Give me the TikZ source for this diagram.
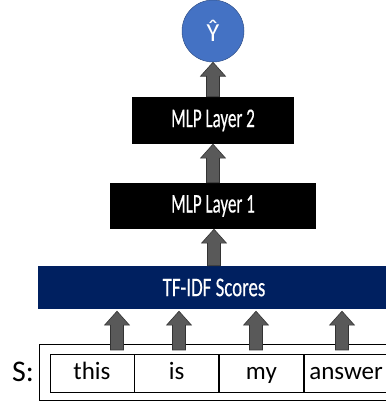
\documentclass[tikz,border=0pt]{standalone}
\usepackage{fontspec}
\setmainfont{Carlito}
\newfontfamily\narrowfont[FakeStretch=0.63,FakeBold=0.35]{Carlito}
\newfontfamily\scorefont[FakeStretch=0.7,FakeBold=0.35]{Carlito}
\usepackage{tikz}
\usetikzlibrary{positioning,calc}
\definecolor{layercolor}{HTML}{000000}
\definecolor{scorecolor}{HTML}{002060}
\definecolor{outcolor}{HTML}{4472C4}
\definecolor{arrowgray}{HTML}{595959}

% block arrow, drawn upward from #1 to the height of #2
\newcommand{\blockarrow}[2]{%
  \filldraw[arrowstyle] let \p1=(#1), \p2=(#2) in
    (\x1-6.5pt,\y1) -- (\x1-6.5pt,\y2-14pt) -- (\x1-12.5pt,\y2-14pt) -- (\x1,\y2)
    -- (\x1+12.5pt,\y2-14pt) -- (\x1+6.5pt,\y2-14pt) -- (\x1+6.5pt,\y1) -- cycle;}

\begin{document}
\begin{tikzpicture}[x=1pt, y=1pt,
  layer/.style={fill=layercolor, text=white, inner sep=0pt, font=\narrowfont\fontsize{27}{27}\selectfont},
  word/.style={draw=black, line width=0.7pt, minimum width=84pt, minimum height=38pt, inner sep=0pt,
    text height=17pt, text depth=5pt, font=\fontsize{25}{25}\selectfont},
  arrowstyle/.style={fill=arrowgray, draw=black!80, line width=0.6pt}]
  \useasboundingbox (0,0) rectangle (386,405);
  % Nodes
  \node[circle, fill=outcolor, draw=outcolor!70!black, line width=0.5pt, minimum size=62pt, inner sep=0pt,
    text=white, font=\fontsize{26}{26}\selectfont] (yhat) at (213,374) {Ŷ};
  \node[layer, minimum width=162pt, minimum height=47pt] (mlp2) at (213,284.5) {MLP Layer 2};
  \node[layer, minimum width=206pt, minimum height=46pt] (mlp1) at (213,199) {MLP Layer 1};
  \node[layer, fill=scorecolor, font=\scorefont\fontsize{27}{27}\selectfont,
    minimum width=352pt, minimum height=43pt] (tfidf) at (214,117.5) {TF-IDF Scores};
  % Sentence
  \draw[line width=0.7pt] (39,5) rectangle (392,61);
  \node[word] (w1) at (92,32) {this};
  \node[word, right=0pt of w1] (w2) {is};
  \node[word, right=0pt of w2] (w3) {my};
  \node[word, right=0pt of w3] (w4) {answer};
  \node[font=\fontsize{30}{30}\selectfont] (s) at (23,33) {S:};
  % Arrows
  \coordinate (b1) at (117,55);
  \coordinate (b2) at (179,55);
  \coordinate (b3) at (256,55);
  \coordinate (b4) at (342,55);
  \foreach \b in {b1,b2,b3,b4}
    \blockarrow{\b}{$(\b |- tfidf.south)+(0,-2pt)$};
  \blockarrow{tfidf.north}{mlp1.south};
  \blockarrow{mlp1.north}{mlp2.south};
  \blockarrow{mlp2.north}{yhat.south};
\end{tikzpicture}
\end{document}
